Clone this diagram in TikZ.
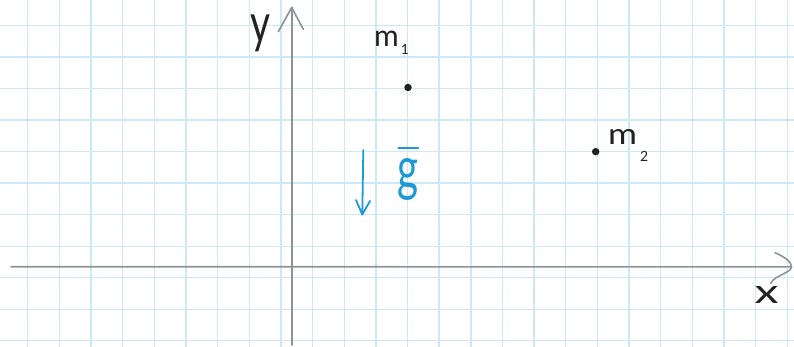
\documentclass[tikz,border=0pt]{standalone}
\usepackage{fontspec}
\setmainfont{Lato}
\usepackage{graphicx}
\definecolor{gridblue}{RGB}{205,233,248}
\definecolor{axisgray}{RGB}{138,147,150}
\definecolor{ink}{RGB}{34,34,34}
\definecolor{gblue}{RGB}{29,154,214}
\tikzset{
  gridline/.style={draw=gridblue, line width=1.4pt},
  axisline/.style={draw=axisgray, line width=1.6pt, line cap=round, line join=round},
  dot/.style={circle, fill=ink, inner sep=0pt, minimum size=7.5pt},
  lab/.style={inner sep=0pt, text=ink},
  blueink/.style={draw=gblue, line width=1.8pt, line cap=round, line join=round},
}
\begin{document}
\begin{tikzpicture}[x=1pt,y=-1pt]
\useasboundingbox (0,0) rectangle (794,347);
\fill[white] (0,0) rectangle (794,347);
% grid
\foreach \k in {0,...,24}{
  \pgfmathsetmacro{\gx}{27.7+31.65*\k}
  \draw[gridline] (\gx,0) -- (\gx,347);
}
\foreach \j in {0,...,10}{
  \pgfmathsetmacro{\gy}{25.7+31.5*\j}
  \draw[gridline] (0,\gy) -- (794,\gy);
}
% axes
\coordinate (ybot) at (291.7,345);
\coordinate (ytip) at (291.7,7.5);
\coordinate (xleft) at (11,266.7);
\coordinate (xtip) at (791.5,266.9);
\draw[axisline] (ybot) -- (ytip);
\draw[axisline] (278.3,31.7) -- (ytip) -- (303.3,29.3);
\draw[axisline] (xleft) -- (xtip);
\draw[axisline] (775,252.7) .. controls (785,257) and (791.5,262) .. (xtip)
  .. controls (791,273) and (775,275) .. (770.7,283.3);
% axis labels
\node[lab] (ylab) at (260.5,33.5) {\resizebox*{20pt}{37pt}{y}};
\node[lab] (xlab) at (766.5,295) {\resizebox*{24pt}{17pt}{x}};
% masses
\node[dot] (m1) at (408,87.5) {};
\node[dot] (m2) at (595.7,151.7) {};
\node[lab, anchor=base west] (m1lab) at (374,46.7)
  {\fontsize{30}{30}\selectfont m\hspace{2pt}\raisebox{-8.3pt}{\fontsize{14}{14}\selectfont 1}};
\node[lab, anchor=base west] (m2lab) at (608,145)
  {\resizebox*{29pt}{15pt}{m}\hspace{3pt}\raisebox{-16.7pt}{\fontsize{14}{14}\selectfont 2}};
% gravity
\coordinate (gtop) at (363.3,150);
\coordinate (gbot) at (362.3,214.5);
\draw[blueink] (gtop) -- (gbot);
\draw[blueink] (356,200) -- (gbot) -- (370,201);
\node[inner sep=0pt, text=gblue] (glab) at (408,179) {\resizebox*{21pt}{42pt}{g}};
\coordinate (gbarl) at (398.3,147.7);
\coordinate (gbarr) at (418.3,147.7);
\draw[blueink] (gbarl) -- (gbarr);
\end{tikzpicture}
\end{document}
